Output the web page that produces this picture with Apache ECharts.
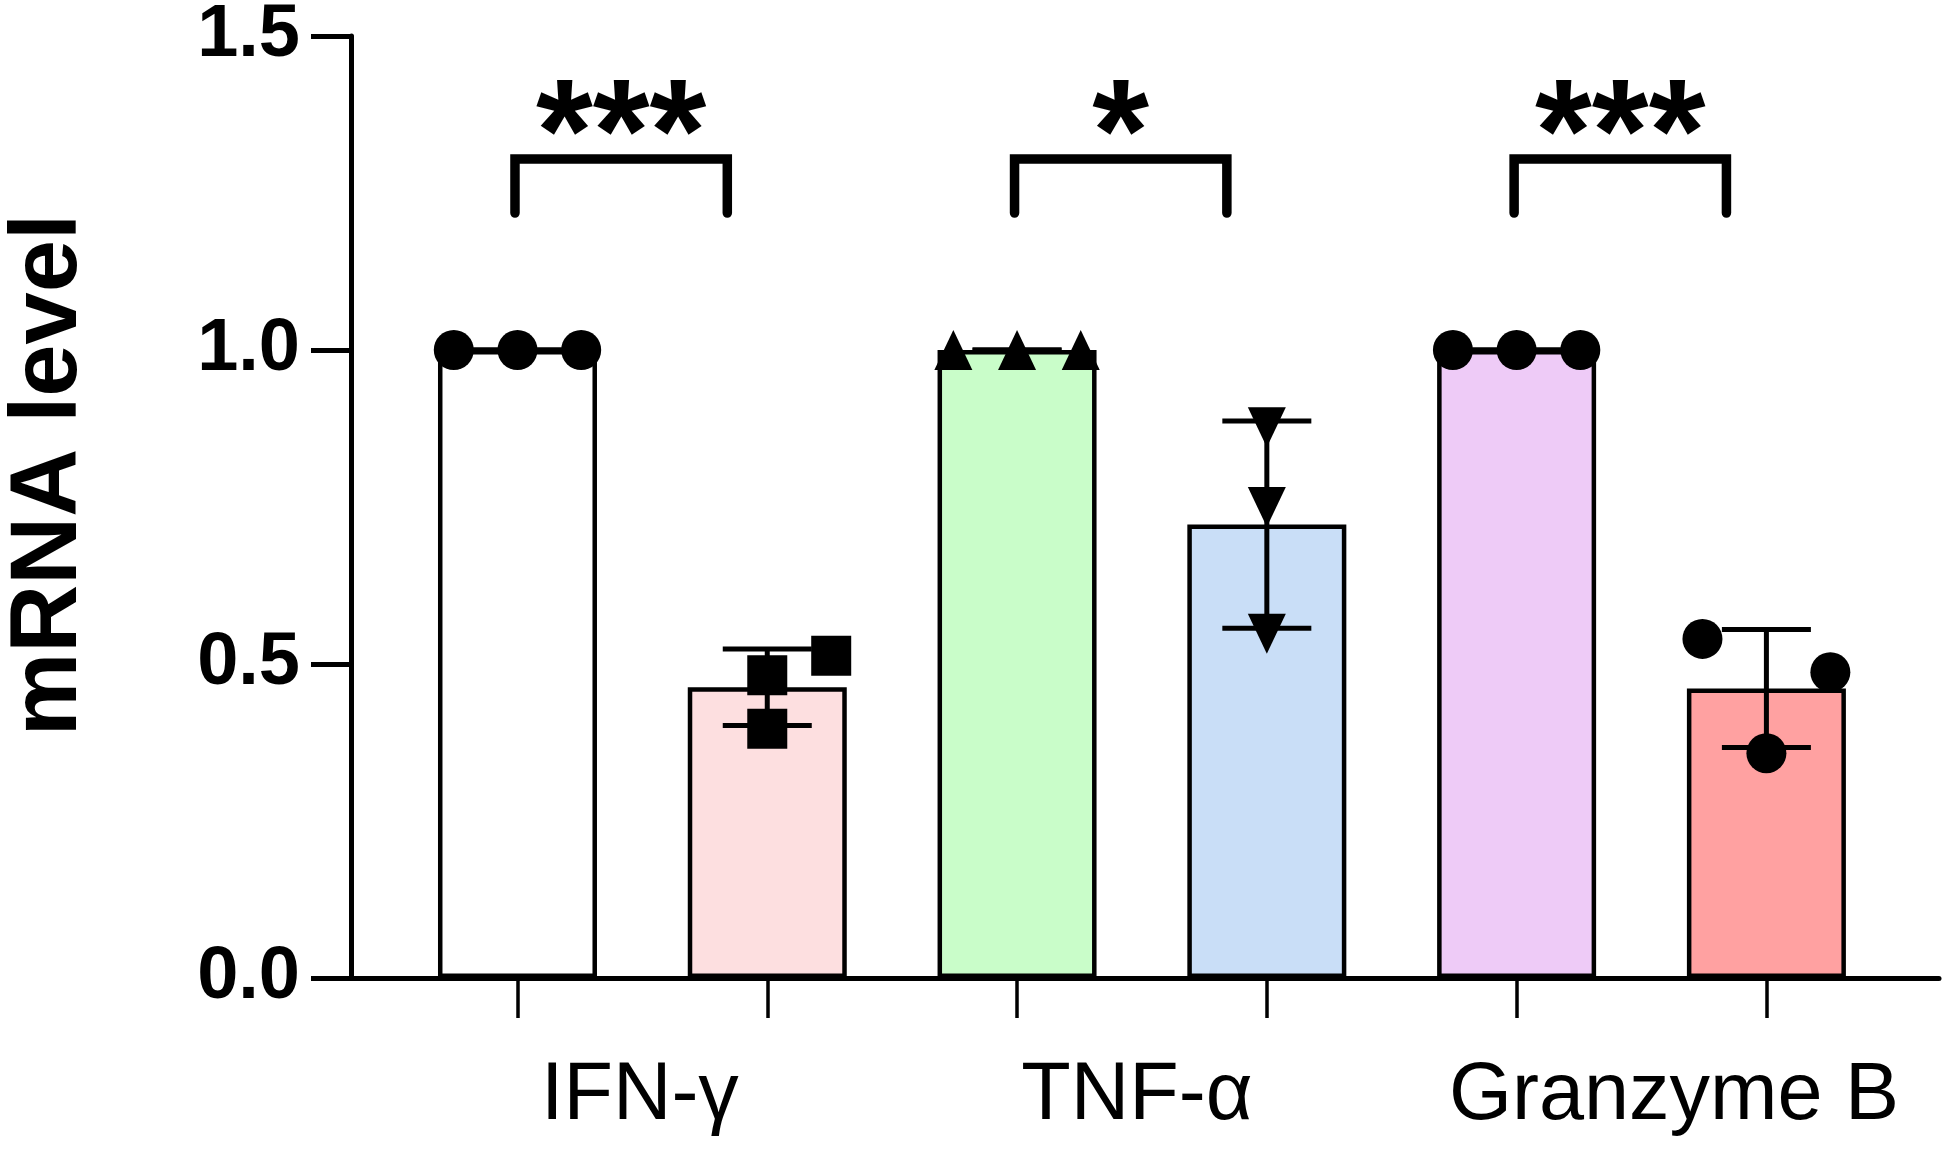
<!DOCTYPE html>
<html>
<head>
<meta charset="utf-8">
<script src="https://cdn.jsdelivr.net/npm/echarts@6/dist/echarts.min.js"></script>
<style>
  html, body { margin: 0; padding: 0; background: #fff; }
  #chart { width: 1947px; height: 1153px; }
</style>
</head>
<body>
<div id="chart"></div>
<script>
// group names on the x axis
const genes = ['IFN-γ', 'TNF-α', 'Granzyme B'];
// six bars: control / treated for each gene
const barMeans = [1.0, 0.463, 1.0, 0.722, 1.0, 0.461];
const barSD = [0, 0.061, 0, 0.165, 0, 0.094];
const barColors = ['#ffffff', '#fddfe0', '#c9fdc9', '#c9def7', '#eecbf7', '#ffa1a1'];
// replicate points
const replicates = [
  [1.0, 1.0, 1.0],
  [0.482, 0.397, 0.513],
  [1.0, 1.0, 1.0],
  [0.877, 0.750, 0.548],
  [1.0, 1.0, 1.0],
  [0.540, 0.487, 0.358]
];
// significance marks, one per gene (between bar 2k and 2k+1)
const sigLabels = ['***', '*', '***'];
const yTicks = [0, 0.5, 1.0, 1.5];

const FONT = '"Liberation Sans", Arial, Helvetica, sans-serif';

// horizontal dodge of replicate dots (GraphPad-style), in bar units
const jitter = [
  [-0.255, 0, 0.255],
  [0, 0, 0.256],
  [-0.255, 0, 0.255],
  [0, 0, 0],
  [-0.255, 0, 0.255],
  [-0.256, 0.256, 0]
];
const symbols = ['circle', 'rect', 'triangle', 'triangle', 'circle', 'circle'];
const symbolRot = [0, 0, 0, 180, 0, 0];
const symbolSizes = [40, 40, [38, 40], [38, 40], 40, 40];

const labelPos = [0.49, 2.48, 4.63];
const capHalf = 44.5;
const bracketSpan = [-0.01, 0.84];
const bracketTop = 1.304, bracketLeg = 1.218, starLevel = 1.333;

const chart = echarts.init(document.getElementById('chart'));

const option = {
  animation: false,
  backgroundColor: '#fff',
  grid: { left: 351, right: 8, top: 36, bottom: 175, containLabel: false, outerBoundsMode: 'none' },
  xAxis: {
    type: 'value',
    min: -0.6665,
    max: 5.691,
    axisLine: { show: true, onZero: false, lineStyle: { color: '#000', width: 5 } },
    axisTick: {
      show: true,
      customValues: [0, 1, 2, 3, 4, 5],
      length: 40,
      lineStyle: { color: '#000', width: 3.5 }
    },
    axisLabel: {
      customValues: labelPos,
      formatter: (v) => {
        let best = 0;
        labelPos.forEach((p, i) => { if (Math.abs(p - v) < Math.abs(labelPos[best] - v)) best = i; });
        return genes[best];
      },
      margin: 78,
      fontSize: 81,
      color: '#000',
      fontFamily: FONT
    },
    splitLine: { show: false }
  },
  yAxis: {
    type: 'value',
    min: yTicks[0],
    max: yTicks[yTicks.length - 1],
    interval: 0.5,
    axisLine: { show: true, onZero: false, lineStyle: { color: '#000', width: 5 } },
    axisTick: { show: true, length: 40, lineStyle: { color: '#000', width: 5 } },
    axisLabel: {
      fontSize: 74,
      fontWeight: 'bold',
      fontFamily: FONT,
      color: '#000',
      margin: 51,
      formatter: (v) => v.toFixed(1)
    },
    splitLine: { show: false },
    name: 'mRNA level',
    nameLocation: 'middle',
    nameRotate: 90,
    nameGap: 254,
    nameTextStyle: {
      fontSize: 94,
      fontWeight: 'bold',
      fontFamily: FONT,
      color: '#000',
      padding: [0, 0, 0, 64]
    }
  },
  series: [
    {
      name: 'bars',
      type: 'bar',
      barWidth: 159,
      silent: true,
      z: 2,
      itemStyle: { borderColor: '#000', borderWidth: 4.5 },
      data: barMeans.map((v, i) => ({ value: [i, v], itemStyle: { color: barColors[i] } }))
    },
    {
      name: 'sd',
      type: 'custom',
      silent: true,
      z: 3,
      encode: { x: 0, y: 1 },
      data: barMeans.map((v, i) => [i, v, barSD[i]]),
      renderItem: (params, api) => {
        const x = api.value(0), m = api.value(1), s = api.value(2);
        const hi = api.coord([x, m + s]);
        const lo = api.coord([x, m - s]);
        const st = { stroke: '#000', lineWidth: 5 };
        return {
          type: 'group',
          children: [
            { type: 'line', shape: { x1: hi[0], y1: hi[1], x2: lo[0], y2: lo[1] }, style: st },
            { type: 'line', shape: { x1: hi[0] - capHalf, y1: hi[1], x2: hi[0] + capHalf, y2: hi[1] }, style: st },
            { type: 'line', shape: { x1: lo[0] - capHalf, y1: lo[1], x2: lo[0] + capHalf, y2: lo[1] }, style: st }
          ]
        };
      }
    },
    {
      name: 'points',
      type: 'scatter',
      silent: true,
      z: 4,
      itemStyle: { color: '#000', opacity: 1 },
      data: replicates.flatMap((vals, i) => vals.map((v, j) => ({
        value: [i + jitter[i][j], v],
        symbol: symbols[i],
        symbolRotate: symbolRot[i],
        symbolSize: symbolSizes[i]
      })))
    },
    {
      name: 'significance',
      type: 'custom',
      silent: true,
      z: 5,
      encode: { x: 0, y: 1 },
      data: sigLabels.map((s, k) => [2 * k, bracketTop]),
      renderItem: (params, api) => {
        const g = api.value(0);
        const p0 = api.coord([g + bracketSpan[0], bracketLeg]);
        const p1 = api.coord([g + bracketSpan[0], bracketTop]);
        const p2 = api.coord([g + bracketSpan[1], bracketTop]);
        const p3 = api.coord([g + bracketSpan[1], bracketLeg]);
        const mid = api.coord([g + (bracketSpan[0] + bracketSpan[1]) / 2, starLevel]);
        return {
          type: 'group',
          children: [
            {
              type: 'polyline',
              shape: { points: [p0, p1, p2, p3] },
              style: { stroke: '#000', lineWidth: 9.5, fill: null, lineCap: 'round', lineJoin: 'miter' }
            },
            {
              type: 'text',
              x: mid[0],
              y: mid[1],
              style: {
                text: sigLabels[params.dataIndex],
                fontSize: 146,
                fontWeight: 'bold',
                fontFamily: FONT,
                fill: '#000',
                align: 'center',
                verticalAlign: 'middle'
              }
            }
          ]
        };
      }
    }
  ]
};

chart.setOption(option);
</script>
</body>
</html>
